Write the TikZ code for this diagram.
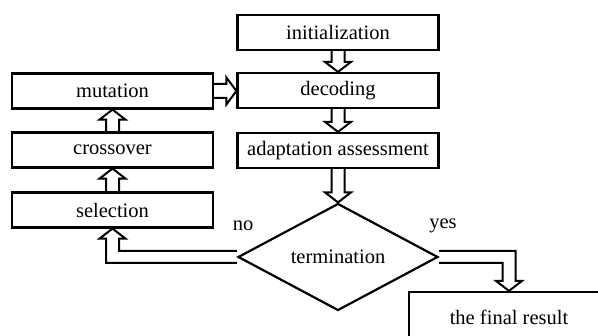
\documentclass[tikz,border=0pt]{standalone}
\usepackage{fontspec}
\setmainfont{Liberation Serif}
\usetikzlibrary{calc,shapes.geometric}
\pgfdeclarelayer{bg}
\pgfsetlayers{bg,main}
\tikzset{
  box/.style={draw, line width=2.2pt, fill=white, minimum width=201pt, minimum height=35pt, inner sep=0pt, font=\fontsize{20.5}{24}\selectfont},
  harrow/.style={draw, line width=2pt, line join=miter, fill=white},
  lbl/.style={font=\fontsize{20.5}{24}\selectfont, inner sep=0pt}
}
\newcommand\hdown[2]{%
  \draw[harrow] ($(#1.south)+(-6.5,0)$) -- ($(#2.north)+(-6.5,-10)$) -- ($(#2.north)+(-13,-10)$) -- (#2.north) -- ($(#2.north)+(13,-10)$) -- ($(#2.north)+(6.5,-10)$) -- ($(#1.south)+(6.5,0)$);}
\newcommand\hup[2]{%
  \draw[harrow] ($(#1.north)+(-6.5,0)$) -- ($(#2.south)+(-6.5,10)$) -- ($(#2.south)+(-13,10)$) -- (#2.south) -- ($(#2.south)+(13,10)$) -- ($(#2.south)+(6.5,10)$) -- ($(#1.north)+(6.5,0)$);}
\begin{document}
\begin{tikzpicture}[x=1pt,y=-1pt]
\useasboundingbox (0,0) rectangle (598,336);
\clip (0,0) rectangle (598,336);
\node[box] (init) at (338,32.5) {initialization};
\node[box] (dec) at (338,90.5) {decoding};
\node[box] (adapt) at (338,150.5) {adaptation assessment};
\node[box] (mut) at (112.5,91) {mutation};
\node[box] (cross) at (112.5,150) {crossover};
\node[box] (sel) at (112.5,210) {selection};
\node[draw, diamond, line width=2.2pt, fill=white, aspect=1.87, inner sep=0pt, minimum width=200pt, minimum height=107pt, font=\fontsize{20.5}{24}\selectfont] (term) at (338,257) {termination};
\node[box, minimum width=200pt, minimum height=50pt] (final) at (509,317) {the final result};
\node[lbl] (no) at (243,226) {no};
\node[lbl] (yes) at (443,226) {yes};
\begin{pgfonlayer}{bg}
\hdown{init}{dec}
\hdown{dec}{adapt}
\hdown{adapt}{term}
\hup{cross}{mut}
\hup{sel}{cross}
% mutation -> decoding
\coordinate (mt) at (dec.west |- mut.east);
\draw[harrow] ($(mut.east)+(0,-7)$) -- ($(mt)+(-10,-7)$) -- ($(mt)+(-10,-13.5)$) -- (mt) -- ($(mt)+(-10,13.5)$) -- ($(mt)+(-10,7)$) -- ($(mut.east)+(0,7)$);
% termination -> selection (no)
\coordinate (nu) at ($(term.west)+(0,-6)$);
\coordinate (nl) at ($(term.west)+(0,6)$);
\coordinate (sr) at ($(sel.south)+(6.5,0)$);
\coordinate (sl) at ($(sel.south)+(-6.5,0)$);
\draw[harrow] (nu) -- (sr |- nu) -- ($(sel.south)+(6.5,10)$) -- ($(sel.south)+(13,10)$) -- (sel.south) -- ($(sel.south)+(-13,10)$) -- ($(sel.south)+(-6.5,10)$) -- (sl |- nl) -- (nl);
% termination -> final result (yes)
\coordinate (yu) at ($(term.east)+(0,-6)$);
\coordinate (yl) at ($(term.east)+(0,6)$);
\coordinate (fr) at ($(final.north)+(6.5,0)$);
\coordinate (fl) at ($(final.north)+(-6.5,0)$);
\draw[harrow] (yu) -- (fr |- yu) -- ($(final.north)+(6.5,-10)$) -- ($(final.north)+(13,-10)$) -- (final.north) -- ($(final.north)+(-13,-10)$) -- ($(final.north)+(-6.5,-10)$) -- (fl |- yl) -- (yl);
\end{pgfonlayer}
\end{tikzpicture}
\end{document}
